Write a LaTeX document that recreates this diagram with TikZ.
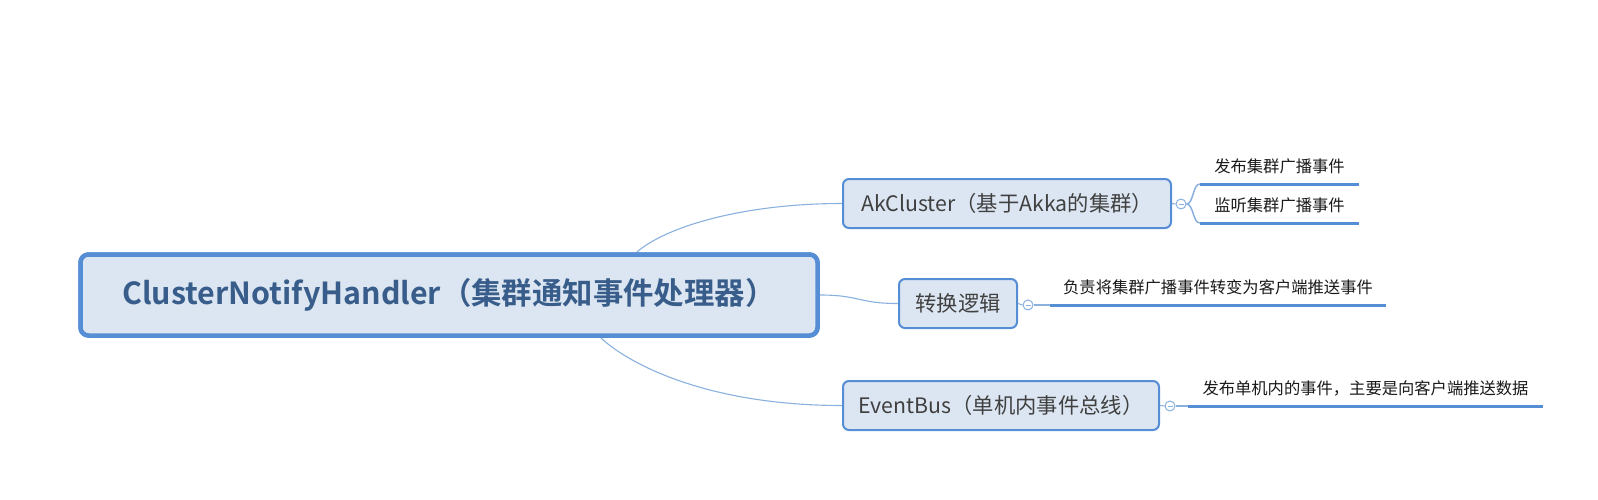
\documentclass[tikz,border=0pt]{standalone}
\usepackage{fontspec}
\setmainfont{Noto Sans CJK SC}[BoldFont={Noto Sans CJK SC Bold}]
\definecolor{boxfill}{HTML}{DCE6F2}
\definecolor{boxdraw}{HTML}{558ED5}
\definecolor{conn}{HTML}{8AB0DE}
\definecolor{maintext}{HTML}{385D8A}
\definecolor{nodetext}{HTML}{404040}
\tikzset{
  mainbox/.style={draw=boxdraw, fill=boxfill, line width=4.5pt, rounded corners=8pt,
    text=maintext, font=\fontsize{30.4}{36}\selectfont\bfseries, inner sep=0pt},
  subbox/.style={draw=boxdraw, fill=boxfill, line width=2pt, rounded corners=6pt,
    text=nodetext, font=\fontsize{21.3}{26}\selectfont, inner sep=0pt, minimum height=49pt},
  leaf/.style={anchor=south, inner sep=0pt, text=black!90, font=\fontsize{16.3}{20}\selectfont, text height=12pt, text depth=11pt},
  leafline/.style={draw=boxdraw, line width=3pt},
  connector/.style={draw=conn, line width=1.1pt},
  toggle/.style={circle, draw=conn, fill=white, line width=1pt, minimum size=10pt, inner sep=0pt,
    path picture={\draw[conn, line width=0.9pt] ([xshift=-2.5pt]path picture bounding box.center) -- ([xshift=2.5pt]path picture bounding box.center);}},
}
\begin{document}
\begin{tikzpicture}[x=1pt,y=-1pt]
\useasboundingbox (0,0) rectangle (1598,500);
% nodes
\node[mainbox, minimum width=737pt, minimum height=81pt] (main) at (449,295) {};
\node[subbox, minimum width=328pt] (ak) at (1007,203.5) {AkCluster（基于Akka的集群）\hspace{14pt}};
\node[subbox, minimum width=118pt] (zh) at (958,303.5) {转换逻辑};
\node[subbox, minimum width=316pt] (eb) at (1001,405.5) {EventBus（单机内事件总线）\hspace{14pt}};
% connectors from main (main box redrawn on top)
\draw[connector] ([xshift=-183pt]main.north east) .. controls +(28,-25) and +(-100,0) .. (ak.west);
\draw[connector] (main.east) .. controls +(40,0) and +(-40,0) .. (zh.west);
\draw[connector] ([xshift=-219pt]main.south east) .. controls +(24,23) and +(-140,0) .. (eb.west);
\node[mainbox, minimum width=737pt, minimum height=81pt] at (main.center) {ClusterNotifyHandler（集群通知事件处理器）};
% toggles
\node[toggle] (tak) at (1181,204) {};
\node[toggle] (tzh) at (1028,305) {};
\node[toggle] (teb) at (1170,406) {};
\draw[connector] (ak.east) -- (tak.west);
\draw[connector] (zh.east) -- (tzh.west);
\draw[connector] (eb.east) -- (teb.west);
% leaves
\node[leaf, minimum width=159pt] (l1) at (1279.5,184) {发布集群广播事件};
\node[leaf, minimum width=159pt] (l2) at (1279.5,223) {监听集群广播事件};
\node[leaf, minimum width=336pt] (l3) at (1218,305) {负责将集群广播事件转变为客户端推送事件};
\node[leaf, minimum width=355pt] (l4) at (1365.5,406) {发布单机内的事件，主要是向客户端推送数据};
\draw[leafline] (l1.south west) -- (l1.south east);
\draw[leafline] (l2.south west) -- (l2.south east);
\draw[leafline] (l3.south west) -- (l3.south east);
\draw[leafline] (l4.south west) -- (l4.south east);
\draw[connector, line width=1.5pt] (tak.east) .. controls +(7,0) and +(-7,0) .. (l1.south west);
\draw[connector, line width=1.5pt] (tak.east) .. controls +(7,0) and +(-7,0) .. (l2.south west);
\draw[connector, line width=1.5pt] (tzh.east) -- (l3.south west);
\draw[connector, line width=1.5pt] (teb.east) -- (l4.south west);
\end{tikzpicture}
\end{document}
